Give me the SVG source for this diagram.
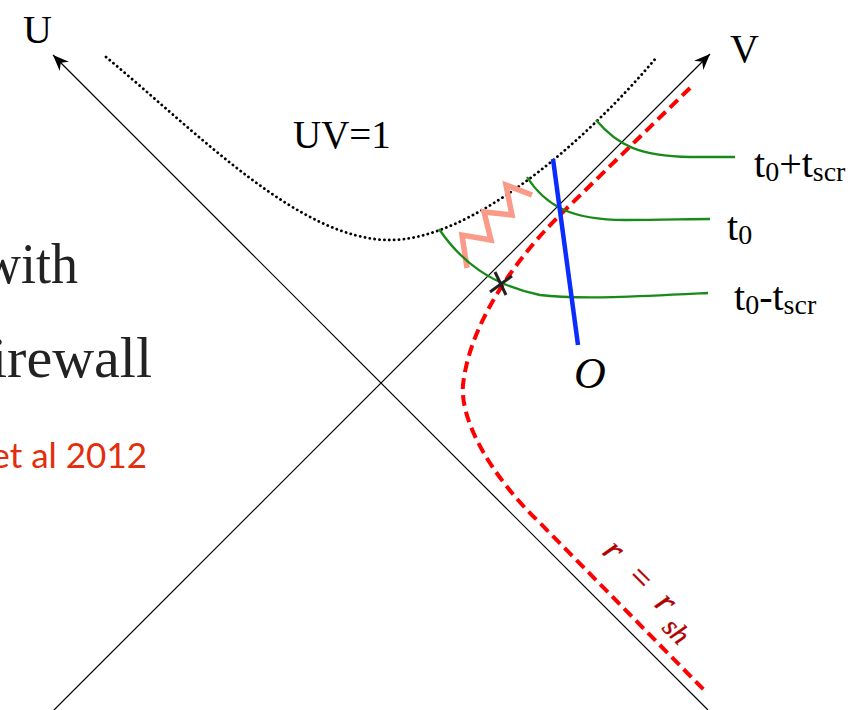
<svg xmlns="http://www.w3.org/2000/svg" width="860" height="710" viewBox="0 0 860 710">
<style>
.ser{font-family:"Liberation Serif","Times New Roman",serif;fill:#000}
.big{font-family:"Liberation Serif","Times New Roman",serif;fill:#222;font-size:58px}
.axis{stroke:#000;stroke-width:1.2;fill:none}
.slice{stroke:#178a17;stroke-width:2.3;fill:none}
</style>
<defs>
<marker id="arr" markerWidth="20" markerHeight="16" viewBox="-17 -8 18 16" refX="0" refY="0" orient="auto" markerUnits="userSpaceOnUse">
<path d="M0,0 L-16,-6.5 L-11,0 L-16,6.5 Z" fill="#000"/>
</marker>
</defs>
<rect width="860" height="710" fill="#fff"/>
<g id="left-text">
<text class="big" x="78" y="283" text-anchor="end" textLength="96" lengthAdjust="spacingAndGlyphs">with</text>
<text class="big" x="152" y="377" text-anchor="end">irewall</text>
<text x="147" y="468" text-anchor="end" font-family="Lato,'Open Sans',sans-serif" font-size="35" fill="#e32d0c">et al 2012</text>
</g>
<g id="axes">
<line class="axis" x1="708" y1="710" x2="53" y2="55" marker-end="url(#arr)"/>
<line class="axis" x1="54" y1="710" x2="710" y2="54" marker-end="url(#arr)"/>
<text class="ser" x="23" y="43" font-size="40">U</text>
<text class="ser" x="730" y="62" font-size="40">V</text>
</g>
<g id="singularity">
<path d="M106,57 C200,135 300,240 390,240 C468,240 578,150 656,58" fill="none" stroke="#000" stroke-width="2.8" stroke-linecap="round" stroke-dasharray="0.1 4.8"/>
<text class="ser" x="293" y="148" font-size="39">UV=1</text>
</g>
<g id="horizon">
<path d="M690,88 L563,212 C520,254 470,320 463,385 C460,420 490,475 540,523 L707,693" fill="none" stroke="#ff0000" stroke-width="4" stroke-dasharray="11 6"/>
<text transform="translate(601,553) rotate(45)" font-family="'Liberation Serif',serif" font-style="italic" font-size="36" fill="#b00000" stroke="#b00000" stroke-width="0.4"><tspan x="0" y="0">r</tspan><tspan x="36" y="0" font-style="normal" font-size="34">=</tspan><tspan x="74" y="0">r</tspan><tspan x="96" y="11" font-size="28">sh</tspan></text>
</g>
<g id="firewall">
<polyline points="467,268 462,235 491,240 484,212 512,215 506,185 532,195" fill="none" stroke="#fa9a88" stroke-width="5.5"/>
</g>
<g id="slices">
<path class="slice" d="M596,120 C618,146 640,156 690,157 L735,157"/>
<path class="slice" d="M527,177 C545,205 570,220 625,220 C660,220 690,219 710,219"/>
<path class="slice" d="M439,229 C460,260 490,285 540,295 C580,300 650,296 708,293"/>
<text class="ser" x="754" y="177" font-size="40">t<tspan font-size="28" dy="4">0</tspan><tspan dy="-4">+t</tspan><tspan font-size="28" dy="4">scr</tspan></text>
<text class="ser" x="727" y="240" font-size="40">t<tspan font-size="28" dy="4">0</tspan></text>
<text class="ser" x="734" y="310" font-size="40">t<tspan font-size="28" dy="4">0</tspan><tspan dy="-4">-t</tspan><tspan font-size="28" dy="4">scr</tspan></text>
</g>
<g id="event">
<line x1="495" y1="272" x2="506" y2="295" stroke="#222" stroke-width="3"/>
<line x1="490" y1="292" x2="512" y2="276" stroke="#222" stroke-width="3"/>
</g>
<g id="observer">
<line x1="553" y1="159" x2="578" y2="345" stroke="#0a2cff" stroke-width="4.5"/>
<text class="ser" x="574" y="388" font-size="44" font-style="italic">O</text>
</g>
</svg>
